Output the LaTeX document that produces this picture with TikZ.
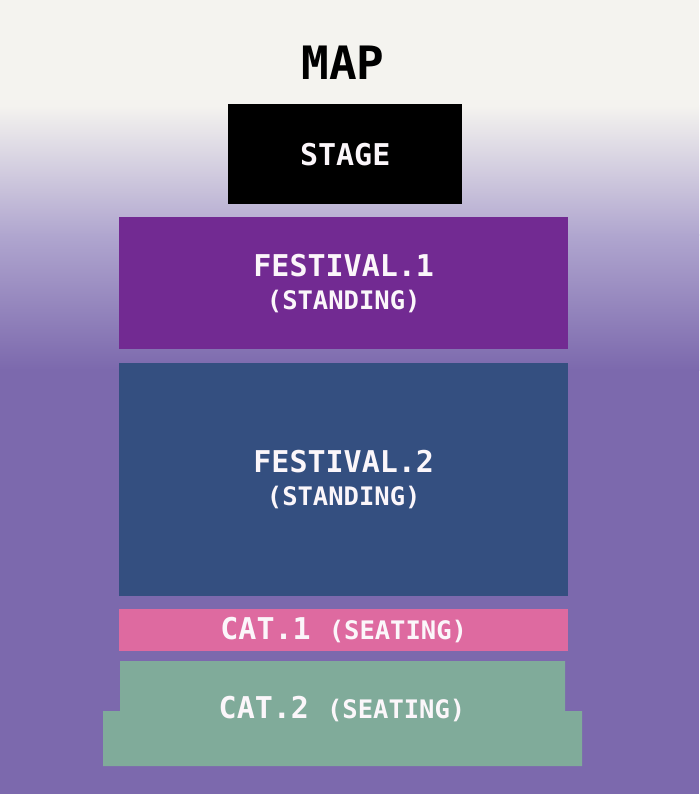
\documentclass[tikz,border=0pt]{standalone}
\usepackage{fontspec}
\setmonofont{DejaVu Sans Mono}
\definecolor{bgtop}{HTML}{F4F3EF}
\definecolor{bgmid}{HTML}{B0A6CF}
\definecolor{bgbot}{HTML}{7C69AD}
\definecolor{stagecol}{HTML}{000000}
\definecolor{fest1col}{HTML}{722A92}
\definecolor{fest2col}{HTML}{344F80}
\definecolor{cat1col}{HTML}{DE6AA0}
\definecolor{cat2col}{HTML}{80AB9A}
\definecolor{txtcol}{HTML}{FBF6FA}
\tikzset{
  zone/.style={rectangle, inner sep=0pt, anchor=north west, text=txtcol, align=center,
    font=\ttfamily\bfseries\fontsize{30}{35}\selectfont},
  big/.style={font=\ttfamily\bfseries\fontsize{46}{50}\selectfont, text=black},
}
\newcommand{\subtxt}[1]{{\fontsize{25.5}{29}\selectfont #1}}
\begin{document}
\begin{tikzpicture}[x=1pt,y=-1pt]
\useasboundingbox (0,0) rectangle (699,794);
% background
\fill[bgtop] (0,0) rectangle (699,106);
\shade[top color=bgtop, bottom color=bgmid] (0,105.5) rectangle (699,235);
\shade[top color=bgmid, bottom color=bgbot] (0,234.5) rectangle (699,370);
\fill[bgbot] (0,369.5) rectangle (699,794);
% title
\node[big] (title) at (343,63) {MAP};
% stage
\node[zone, fill=stagecol, minimum width=234pt, minimum height=100pt] (stage) at (228,104) {STAGE};
% festival 1
\node[zone, fill=fest1col, minimum width=449pt, minimum height=132pt] (fest1) at (119,217)
  {FESTIVAL.1\\[-2pt]\subtxt{(STANDING)}};
% festival 2
\node[zone, fill=fest2col, minimum width=449pt, minimum height=233pt] (fest2) at (119,363)
  {FESTIVAL.2\\[-2pt]\subtxt{(STANDING)}};
% cat 1
\node[zone, fill=cat1col, minimum width=449pt, minimum height=42pt] (cat1) at (119,609)
  {CAT.1 \subtxt{(SEATING)}};
% cat 2
\fill[cat2col] (120,661) -- (565,661) -- (565,711) -- (582,711) -- (582,766)
  -- (103,766) -- (103,711) -- (120,711) -- cycle;
\node[zone, anchor=center] (cat2) at (342,709) {CAT.2 \subtxt{(SEATING)}};
\end{tikzpicture}
\end{document}
